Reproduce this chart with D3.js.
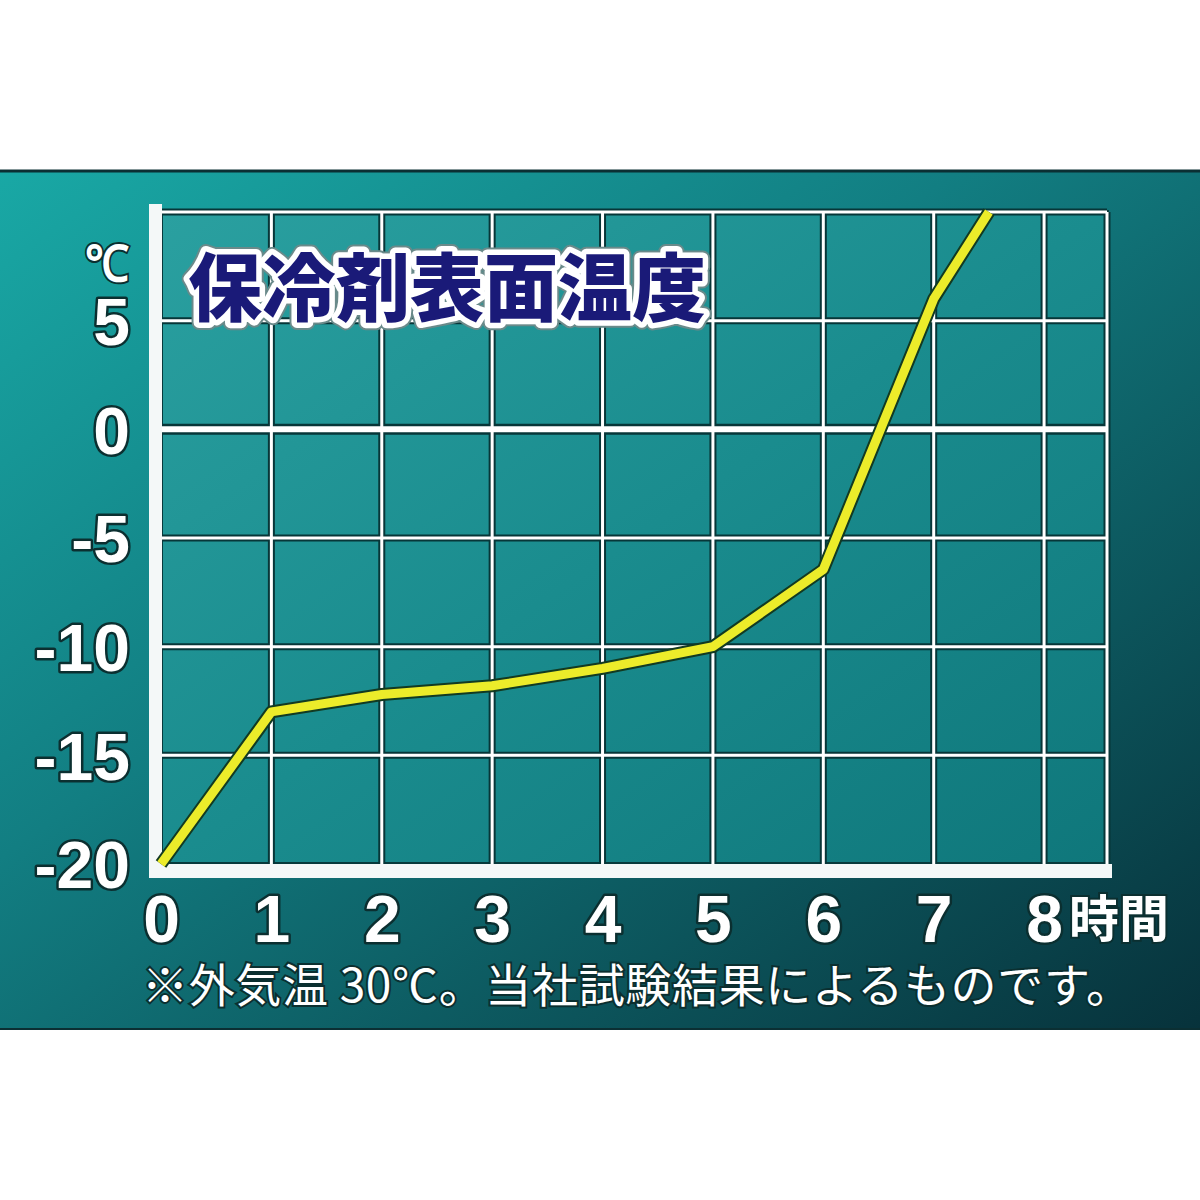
<!DOCTYPE html>
<html>
<head>
<meta charset="utf-8">
<script src="https://cdn.jsdelivr.net/npm/d3@7"></script>
<style>
  body { margin: 0; background: #fff; }
</style>
</head>
<body>
<script>
// data
const hours = [0, 1, 2, 3, 4, 5, 6, 7, 7.5]
const temps = [-20, -13, -12.2, -11.8, -11, -10, -6.45, 6, 10]
const xTicks = [0, 1, 2, 3, 4, 5, 6, 7, 8]
const yTicks = [-20, -15, -10, -5, 0, 5]
const gridY = [-15, -10, -5, 0, 5, 10]
const title = "保冷剤表面温度"
const unitY = "℃"
const unitX = "時間"
const note = "※外気温 30℃。当社試験結果によるものです。"

const W = 1200, H = 1200

let svg = d3.select("body")
    .append("svg")
    .attr("width", W)
    .attr("height", H)

const defs = svg.append("defs")

// panel background gradient
const bg = defs.append("linearGradient")
    .attr("id", "bg")
    .attr("x1", "0").attr("y1", "0")
    .attr("x2", "1").attr("y2", "1")
bg.append("stop").attr("offset", "0").attr("stop-color", "#19a8a5")
bg.append("stop").attr("offset", "0.4").attr("stop-color", "#127e82")
bg.append("stop").attr("offset", "1").attr("stop-color", "#07323b")

const plotBg = defs.append("linearGradient")
    .attr("id", "plotbg")
    .attr("x1", "0").attr("y1", "0")
    .attr("x2", "1").attr("y2", "1")
plotBg.append("stop").attr("offset", "0").attr("stop-color", "#2aa0a0")
plotBg.append("stop").attr("offset", "0.5").attr("stop-color", "#1a8c8e")
plotBg.append("stop").attr("offset", "1").attr("stop-color", "#0f777b")

// teal panel
svg.append("rect")
    .attr("x", 0).attr("y", 170)
    .attr("width", W).attr("height", 860)
    .attr("fill", "url(#bg)")
svg.append("line")
    .attr("x1", 0).attr("x2", W)
    .attr("y1", 171).attr("y2", 171)
    .attr("stroke", "#0b2f33").attr("stroke-width", 3)
svg.append("line")
    .attr("x1", 0).attr("x2", W)
    .attr("y1", 1029).attr("y2", 1029)
    .attr("stroke", "#0b2f33").attr("stroke-width", 2)

// scales
const x = d3.scaleLinear().domain([0, 8.57]).range([161, 1107])
const y = d3.scaleLinear().domain([-20, 10]).range([864, 212])

// plot area
svg.append("rect")
    .attr("x", x(0)).attr("y", y(10))
    .attr("width", x(8.57) - x(0))
    .attr("height", y(-20) - y(10))
    .attr("fill", "url(#plotbg)")
    .attr("stroke", "#083a3c")
    .attr("stroke-width", 4)

const grid = svg.append("g")
const gridX = xTicks.slice(1).concat([8.57])

// dark edges under the grid lines
gridX.forEach(v => {
    grid.append("line")
        .attr("x1", x(v)).attr("x2", x(v))
        .attr("y1", y(10)).attr("y2", y(-20))
        .attr("stroke", "#073638").attr("stroke-width", 7)
})
gridY.forEach(v => {
    grid.append("line")
        .attr("x1", x(0)).attr("x2", x(8.57))
        .attr("y1", y(v)).attr("y2", y(v))
        .attr("stroke", "#073638").attr("stroke-width", v === 0 ? 11 : 7)
})
// white grid lines
gridX.forEach(v => {
    grid.append("line")
        .attr("x1", x(v)).attr("x2", x(v))
        .attr("y1", y(10)).attr("y2", y(-20))
        .attr("stroke", "#ffffff").attr("stroke-width", 3)
})
gridY.forEach(v => {
    grid.append("line")
        .attr("x1", x(0)).attr("x2", x(8.57))
        .attr("y1", y(v)).attr("y2", y(v))
        .attr("stroke", "#ffffff").attr("stroke-width", v === 0 ? 6 : 3)
})

// thick axis bars
svg.append("rect")
    .attr("x", x(0) - 12).attr("y", y(10) - 8)
    .attr("width", 13).attr("height", y(-20) - y(10) + 22)
    .attr("fill", "#f4f8f8")
svg.append("rect")
    .attr("x", x(0) - 12).attr("y", y(-20))
    .attr("width", x(8.57) - x(0) + 17).attr("height", 14)
    .attr("fill", "#f4f8f8")

// the temperature line
const line = d3.line()
    .x((d, i) => x(hours[i]))
    .y(d => y(d))

svg.append("path")
    .datum(temps)
    .attr("d", line)
    .attr("fill", "none")
    .attr("stroke", "#123a22")
    .attr("stroke-width", 13)
    .attr("stroke-linejoin", "round")
svg.append("path")
    .datum(temps)
    .attr("d", line)
    .attr("fill", "none")
    .attr("stroke", "#ecec2a")
    .attr("stroke-width", 9)
    .attr("stroke-linejoin", "round")

// title
const titleText = () => svg.append("text")
    .attr("x", 188).attr("y", 315)
    .attr("font-family", "'Noto Sans CJK JP'")
    .attr("font-weight", 900)
    .attr("font-size", 74)
    .attr("fill", "#1a1a78")
    .attr("stroke-linejoin", "round")
    .style("paint-order", "stroke")
    .text(title)
titleText().attr("stroke", "#6a8a8a").attr("stroke-width", 15)
titleText().attr("stroke", "#ffffff").attr("stroke-width", 11)

// axes, labels only
const labelStyle = sel => sel
    .attr("font-family", "'Liberation Sans', Arial, sans-serif")
    .attr("font-weight", "bold")
    .attr("font-size", 66)
    .attr("fill", "#ffffff")
    .attr("stroke", "#0b2f30")
    .attr("stroke-width", 5)
    .attr("stroke-linejoin", "round")
    .style("paint-order", "stroke")

const yAxis = svg.append("g")
    .attr("transform", "translate(130,0)")
    .call(d3.axisLeft(y).tickValues(yTicks).tickSize(0).tickPadding(0).tickFormat(d => String(d)))
yAxis.select(".domain").remove()
yAxis.selectAll("text")
    .call(labelStyle)
    .attr("dy", "0.36em")
    .attr("text-anchor", "end")

const xAxis = svg.append("g")
    .attr("transform", "translate(0,942)")
    .call(d3.axisBottom(x).tickValues(xTicks).tickSize(0).tickPadding(0).tickFormat(d => String(d)))
xAxis.select(".domain").remove()
xAxis.selectAll("text")
    .call(labelStyle)
    .attr("y", 0)
    .attr("dy", 0)

// unit labels
svg.append("text")
    .attr("x", 129).attr("y", 281)
    .attr("text-anchor", "end")
    .attr("font-family", "'Liberation Sans', Arial, sans-serif")
    .attr("font-weight", "bold")
    .attr("font-size", 50)
    .attr("fill", "#ffffff")
    .attr("stroke", "#0b2f30")
    .attr("stroke-width", 4)
    .style("paint-order", "stroke")
    .attr("textLength", 44)
    .attr("lengthAdjust", "spacingAndGlyphs")
    .text(unitY)

svg.append("text")
    .attr("x", 1069).attr("y", 937)
    .attr("font-family", "'Noto Sans CJK JP'")
    .attr("font-weight", "bold")
    .attr("font-size", 50)
    .attr("fill", "#ffffff")
    .attr("stroke", "#0b2f30")
    .attr("stroke-width", 4)
    .style("paint-order", "stroke")
    .text(unitX)

// footnote
svg.append("text")
    .attr("x", 142).attr("y", 1002)
    .attr("font-family", "'Noto Sans CJK JP'")
    .attr("font-weight", 400)
    .attr("font-size", 46)
    .attr("fill", "#ffffff")
    .attr("stroke", "#0b2f30")
    .attr("stroke-width", 4)
    .style("paint-order", "stroke")
    .attr("textLength", 990)
    .attr("lengthAdjust", "spacing")
    .text(note)
</script>
</body>
</html>
